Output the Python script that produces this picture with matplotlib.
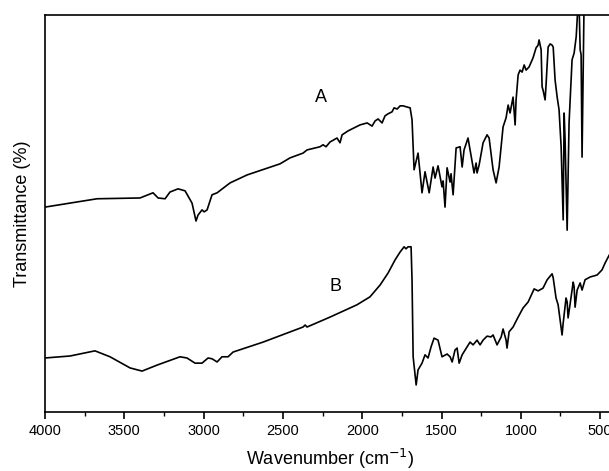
import matplotlib
matplotlib.use("Agg")
import matplotlib.pyplot as plt
from matplotlib.ticker import MultipleLocator

plt.rcParams['font.family'] = ['Liberation Sans', 'DejaVu Sans']

# FTIR spectrum A: wavenumber (cm-1) and transmittance (arbitrary, % of frame height)
wn_a = [4000, 3672, 3401, 3319, 3287, 3243, 3212, 3161, 3117, 3073, 3048, 3035, 3010, 2997,
        2978, 2947, 2915, 2833, 2726, 2518, 2455, 2373, 2348, 2266, 2247, 2228, 2203, 2159,
        2140, 2127, 2089, 2014, 1969, 1938, 1919, 1900, 1875, 1856, 1837, 1812, 1799, 1780,
        1761, 1742, 1717, 1698, 1686, 1673, 1648, 1623, 1604, 1578, 1553, 1541, 1522, 1497,
        1490, 1478, 1465, 1446, 1440, 1427, 1408, 1383, 1370, 1358, 1333, 1307, 1295, 1282,
        1276, 1263, 1238, 1213, 1200, 1175, 1156, 1137, 1112, 1093, 1080, 1068, 1049, 1036,
        1030, 1017, 1005, 992, 979, 967, 948, 923, 904, 891, 885, 872, 866, 860, 847, 841,
        828, 815, 803, 796, 784, 771, 759, 746, 733, 727, 721, 708, 696, 677, 664, 651, 639,
        633, 626, 620, 614, 601, 580, 400]
t_a = [51.6, 53.7, 53.9, 55.2, 53.9, 53.7, 55.4, 56.2, 55.7, 52.6, 48.1, 49.6, 50.9, 50.4,
       50.9, 54.7, 55.2, 57.7, 59.7, 62.5, 64.0, 65.2, 66.0, 66.8, 67.3, 66.8, 68.0, 69.0,
       67.8, 69.8, 70.8, 72.3, 72.8, 72.0, 73.3, 73.8, 72.8, 74.6, 75.1, 75.6, 76.6, 76.3,
       77.1, 77.1, 76.8, 76.6, 73.6, 61.0, 65.2, 55.2, 60.5, 55.2, 61.7, 58.9, 62.0, 56.7,
       58.2, 51.6, 61.5, 57.9, 60.0, 54.7, 66.5, 66.8, 61.7, 66.0, 69.0, 63.0, 60.2, 62.7,
       60.2, 62.2, 67.8, 69.8, 69.0, 61.0, 57.7, 61.7, 71.8, 74.1, 77.3, 75.3, 79.3, 72.3,
       78.6, 84.9, 86.1, 85.6, 87.4, 86.1, 86.9, 89.2, 91.7, 92.4, 93.7, 91.2, 81.9, 81.1,
       78.6, 82.4, 91.9, 92.7, 92.4, 91.9, 83.6, 79.3, 76.1, 66.8, 48.4, 75.3, 68.5, 45.8,
       72.8, 88.7, 90.4, 94.5, 103.0, 103.0, 91.2, 90.0, 64.2, 104.0, 108.0, 108.0]

# FTIR spectrum B
wn_b = [4000, 3842, 3685, 3590, 3464, 3388, 3294, 3149, 3105, 3054, 3010, 2972, 2947, 2915,
        2884, 2846, 2814, 2625, 2373, 2360, 2348, 2203, 2033, 1951, 1887, 1837, 1793, 1761,
        1736, 1724, 1711, 1692, 1686, 1679, 1660, 1648, 1623, 1604, 1585, 1566, 1547, 1522,
        1497, 1465, 1446, 1433, 1415, 1402, 1389, 1370, 1339, 1320, 1301, 1276, 1257, 1238,
        1213, 1188, 1175, 1150, 1124, 1112, 1093, 1087, 1074, 1049, 1017, 986, 954, 916, 891,
        860, 834, 803, 796, 778, 765, 740, 733, 715, 708, 702, 683, 670, 664, 658, 645, 626,
        614, 595, 563, 519, 488, 469, 443, 400]
t_b = [13.6, 14.1, 15.4, 13.9, 11.1, 10.3, 11.8, 13.9, 13.6, 12.3, 12.3, 13.6, 13.4, 12.6,
       13.9, 13.9, 15.1, 17.6, 21.4, 21.9, 21.4, 23.9, 27.0, 29.0, 32.0, 35.0, 38.3, 40.3,
       41.6, 41.1, 41.6, 41.6, 33.3, 13.9, 6.8, 10.6, 12.3, 14.4, 13.6, 16.4, 18.6, 18.1,
       13.9, 14.6, 13.9, 12.6, 15.6, 16.1, 12.3, 14.4, 16.4, 17.6, 16.9, 18.1, 16.9, 18.1,
       19.1, 18.9, 19.4, 16.9, 18.9, 20.9, 18.1, 16.1, 20.2, 21.4, 23.9, 26.2, 27.7, 31.0,
       30.5, 31.2, 33.3, 34.8, 33.8, 28.7, 27.0, 19.4, 22.4, 28.7, 27.7, 23.7, 29.0, 32.7,
       31.5, 26.4, 30.7, 32.5, 30.7, 33.3, 34.0, 34.5, 35.8, 37.5, 39.5, 42.0]

x_ticks = [4000, 3500, 3000, 2500, 2000, 1500, 1000, 500]
x_tick_labels = ["4000", "3500", "3000", "2500", "2000", "1500", "1000", "500"]

fig = plt.figure(figsize=(6.09, 4.71), dpi=100)
ax = fig.add_axes([0.0739, 0.1253, 0.9376, 0.843])

ax.plot(wn_a, t_a, color="black", lw=1.2)
ax.plot(wn_b, t_b, color="black", lw=1.2)

ax.set_xlim(4000, 400)
ax.set_ylim(0, 100)

ax.set_xticks(x_ticks)
ax.set_xticklabels(x_tick_labels)
ax.xaxis.set_minor_locator(MultipleLocator(250))
ax.tick_params(axis="x", which="major", direction="out", length=5, width=1.2,
               labelsize=10.5, pad=4)
ax.tick_params(axis="x", which="minor", direction="out", length=3, width=1.0)
ax.set_yticks([])
ax.tick_params(top=False)

for side in ("left", "top", "bottom"):
    ax.spines[side].set_linewidth(1.2)
ax.spines["right"].set_visible(False)

ax.text(2260, 79.1, "A", fontsize=13, ha="center", va="center")
ax.text(2171, 31.7, "B", fontsize=13, ha="center", va="center")

ax.set_xlabel("Wavenumber (cm$^{-1}$)", fontsize=13, labelpad=6)
ax.set_ylabel("Transmittance (%)", fontsize=13, labelpad=10)

fig.savefig("out.png", dpi=100)
